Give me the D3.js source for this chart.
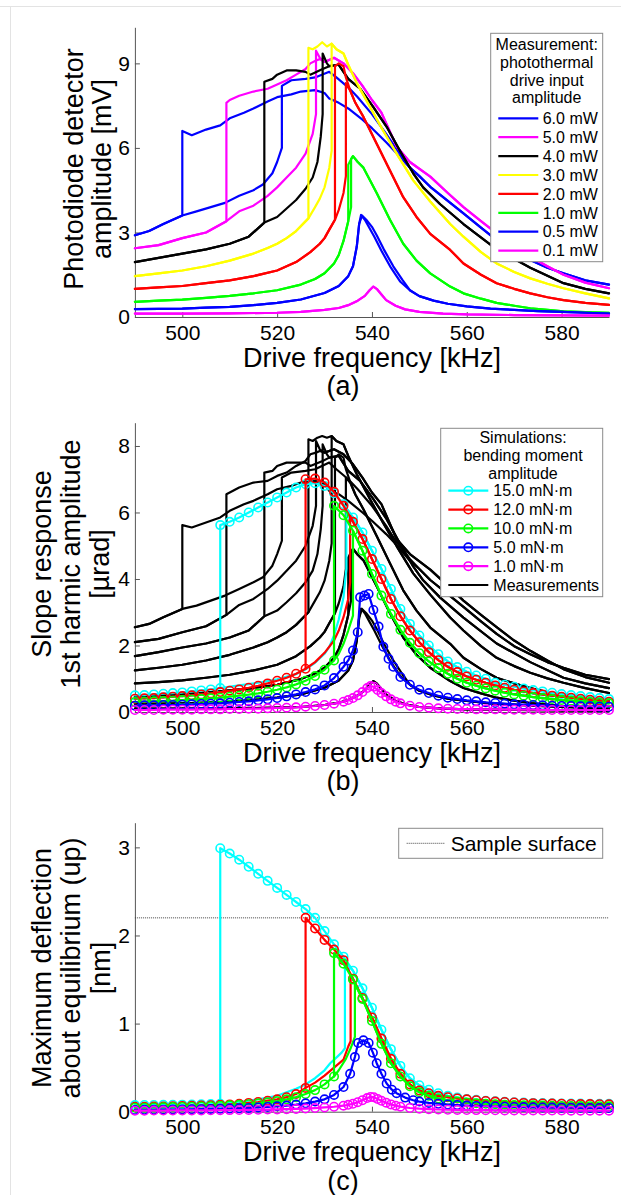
<!DOCTYPE html>
<html>
<head>
<meta charset="utf-8">
<script src="https://cdn.jsdelivr.net/npm/d3@7"></script>
<style>
  body { margin: 0; background: #fff; }
  svg text { font-family: "Liberation Sans", Arial, sans-serif; fill: #000; }
</style>
</head>
<body>
<div id="chart"></div>
<script>
// tick values
const freqTicks = [500, 520, 540, 560, 580];
const ampTicks = [0, 3, 6, 9];
const slopeTicks = [0, 2, 4, 6, 8];
const deflTicks = [0, 1, 2, 3];

// (a) measurements, lower branch (490 -> jump up) and upper branch (jump down -> 590)
const powerLabels = ['6.0 mW', '5.0 mW', '4.0 mW', '3.0 mW', '2.0 mW', '1.0 mW', '0.5 mW', '0.1 mW'];
const powerColors = ['#0000ff', '#ff00ff', '#000000', '#ffff00', '#ff0000', '#00ff00', '#0000ff', '#ff00ff'];

const a60Lo = [[490,2.9],[493,3.05],[496,3.3],[500,3.6],[503,3.75],[506,3.9],[509,4.05],[512,4.3],[515,4.5],[517,4.7],[519,5.1],[520,5.5],[521,6.0]];
const a60Hi = [[500,6.6],[502,6.45],[505,6.65],[508,6.8],[510,7.05],[513,7.25],[515,7.4],[518,7.65],[520,7.8],[523,7.9],[525,8.0],[528,8.05],[530,7.95],[531,7.75],[533,7.6],[535,7.4],[538,7.0],[540,6.7],[543,6.2],[545,5.85],[548,5.3],[550,5.0],[552.3,4.62],[555.8,4.15],[559.3,3.68],[562.8,3.2],[566.3,2.73],[570,2.3],[573.4,2.02],[577,1.75],[580.4,1.55],[585,1.3],[590,1.15]];
const a60HiUp = [[521,8.2],[523,8.4],[526,8.45],[528,8.5],[531,8.7],[532.5,8.5],[535,8.15],[537,7.8],[540,7.2],[543,6.5],[545,6.0],[548,5.3]];

const a50Lo = [[490,2.44],[495,2.55],[500,2.8],[505,3.0],[509.3,3.4],[512,3.75],[515,3.95],[518,4.3],[520,4.6],[522,4.95],[524,5.3],[526,5.8],[527.5,6.5],[528.2,7.2]];
const a50Hi = [[509.3,7.6],[510,7.7],[512,7.85],[515,8.0],[518,8.1],[520,8.25],[522,8.4],[524,8.6],[526,8.8],[527,9.0],[528.2,9.1],[529,9.15],[530,9.05],[532,9.2],[534,9.0],[536,8.65],[538,8.2],[540,7.7],[542,7.25],[545.2,6.05],[548,5.5],[552.3,4.98],[556,4.4],[559.3,3.9],[563,3.4],[566.3,2.97],[570,2.5],[573.4,2.14],[577,1.8],[580.4,1.5],[585,1.22],[590,1.02]];
const a50HiUp = [[528.2,9.45],[529,9.2],[530,9.05]];

const a40Lo = [[490,1.95],[495,2.1],[500,2.25],[505,2.4],[510,2.6],[514,2.85],[517.3,3.35],[520,3.55],[522,3.85],[524,4.15],[526,4.55],[527.5,4.95],[528.5,5.5],[529.2,6.4],[529.6,7.2]];
const a40Hi = [[517.3,8.35],[519,8.45],[520,8.6],[522,8.75],[524,8.75],[526,8.7],[527,8.6],[529.6,8.8],[531,8.9],[533,8.95],[535,8.45],[537.5,8.1],[540.3,7.45],[543.1,6.75],[545.9,5.9],[548.7,5.1],[550.8,4.6],[554.4,4.0],[559.3,3.3],[566.3,2.4],[573.4,1.75],[580.4,1.2],[585,1.0],[590,0.84]];
const a40HiUp = [[529.6,9.35],[530.5,9.0],[531,8.9]];

const a30Lo = [[490,1.45],[495,1.55],[500,1.65],[505,1.8],[510,2.0],[515,2.25],[518,2.45],[520,2.6],[522,2.8],[524,3.05],[526.6,3.5],[528,3.9],[529,4.2],[530,4.6],[531,5.3],[531.5,5.9]];
const a30Hi = [[526.6,9.55],[527.5,9.5],[528.5,9.6],[529.5,9.75],[530.5,9.6],[531.5,9.7],[532.5,9.5],[534,9.35],[535,8.95],[536.8,8.3],[539.6,7.45],[542.4,6.6],[545.2,5.8],[548.7,4.85],[552.3,4.1],[556.5,3.3],[559.3,2.85],[563,2.3],[566.3,1.9],[570,1.6],[573.4,1.37],[577,1.18],[580.4,1.02],[585,0.84],[590,0.66]];

const a20Lo = [[490,1.0],[495,1.05],[500,1.1],[505,1.2],[510,1.3],[515,1.45],[520,1.65],[524,1.95],[527,2.3],[529,2.6],[530,2.8],[531,3.1],[532.2,3.45],[533,3.8],[534,4.4],[534.5,5.0]];
const a20Hi = [[532.2,8.9],[533,9.0],[534,8.9],[534.5,8.5],[535.5,8.0],[536.5,7.6],[538.2,7.1],[541,6.15],[543.8,5.2],[546.6,4.25],[549.4,3.55],[552.3,2.95],[556.5,2.38],[559.3,1.9],[563,1.5],[566.3,1.2],[570,1.0],[573.4,0.84],[577,0.7],[580.4,0.6],[585,0.5],[590,0.43]];
const a20HiUp = [[534.5,8.3]];

const a10Lo = [[490,0.54],[495,0.58],[500,0.62],[505,0.68],[510,0.75],[515,0.84],[520,0.95],[525,1.15],[528,1.35],[530,1.55],[532,1.9],[533,2.2],[534,2.7],[535,3.4],[535.6,3.9]];
const a10Hi = [[535,5.4],[535.6,5.6],[536,5.71],[537,5.5],[538.2,5.3],[541,4.4],[543.8,3.45],[546.6,2.6],[549.4,2.0],[552.3,1.55],[556.5,1.08],[559.3,0.84],[563,0.65],[566.3,0.5],[570,0.4],[573.4,0.31],[577,0.25],[580.4,0.2],[585,0.17],[590,0.15]];

const a05Lo = [[490,0.28],[495,0.29],[500,0.3],[505,0.33],[510,0.36],[515,0.42],[520,0.5],[525,0.62],[530,0.85],[533,1.1],[535,1.45],[536,1.8],[536.8,2.5],[537.3,3.3]];
const a05Hi = [[537.3,3.3],[537.7,3.62],[538.5,3.45],[539.5,3.15],[540.5,2.85],[542,2.35],[544,1.75],[546,1.25],[548,0.95],[550,0.74],[553,0.58],[556,0.47],[560,0.38],[565,0.3],[570,0.25],[575,0.21],[580,0.18],[585,0.15],[590,0.12]];
const a05HiUp = [[537.3,3.3],[537.9,3.6],[538.8,3.45],[540,3.2],[541,2.9],[542.5,2.4],[544.5,1.8],[546.5,1.3]];

const a01Lo = [[490,0.12],[500,0.12],[510,0.13],[520,0.15],[525,0.18],[530,0.25],[533,0.32],[535,0.42],[537,0.58],[538.5,0.75],[539.5,0.95]];
const a01Hi = [[539.5,0.95],[540.3,1.08],[541,1.0],[542,0.8],[543,0.6],[545,0.4],[547,0.27],[550,0.18],[555,0.12],[560,0.09],[570,0.07],[580,0.06],[590,0.05]];

// (b) measurements in slope units
const b60Lo = [[490,2.55],[493,2.65],[496,2.85],[500,3.1],[503,3.2],[506,3.35],[509,3.5],[512,3.7],[515,3.9],[517,4.05],[519,4.4],[520,4.75],[521,5.15]];
const b60Hi = [[500,5.62],[502,5.55],[505,5.7],[508,5.85],[510,6.05],[513,6.25],[515,6.35],[518,6.55],[520,6.7],[523,6.8],[525,6.9],[528,6.95],[530,6.85],[531,6.65],[533,6.55],[535,6.35],[538,6.0],[540,5.75],[543,5.35],[545,5.05],[548,4.55],[550,4.3],[552.3,3.97],[555.8,3.57],[559.3,3.16],[562.8,2.75],[566.3,2.35],[570,1.98],[573.4,1.74],[577,1.5],[580.4,1.33],[585,1.12],[590,0.99]];
const b60HiUp = [[521,7.05],[523,7.2],[526,7.25],[528,7.3],[531,7.5],[532.5,7.3],[535,7.0],[537,6.7],[540,6.2],[543,5.6],[545,5.15],[548,4.6]];

const b50Lo = [[490,2.1],[495,2.2],[500,2.4],[505,2.58],[509.3,2.92],[512,3.22],[515,3.4],[518,3.7],[520,3.95],[522,4.25],[524,4.55],[526,5.0],[527.5,5.6],[528.2,6.2]];
const b50Hi = [[509.3,6.55],[510,6.6],[512,6.75],[515,6.9],[518,6.95],[520,7.1],[522,7.2],[524,7.4],[526,7.55],[527,7.75],[528.2,7.8],[529,7.85],[530,7.8],[532,7.9],[534,7.75],[536,7.45],[538,7.05],[540,6.6],[542,6.25],[545.2,5.2],[548,4.75],[552.3,4.28],[556,3.8],[559.3,3.35],[563,2.92],[566.3,2.55],[570,2.15],[573.4,1.84],[577,1.55],[580.4,1.29],[585,1.05],[590,0.88]];
const b50HiUp = [[528.2,8.15],[529,7.9],[530,7.8]];

const b40Lo = [[490,1.68],[495,1.8],[500,1.94],[505,2.06],[510,2.24],[514,2.45],[517.3,2.88],[520,3.05],[522,3.3],[524,3.57],[526,3.9],[527.5,4.25],[528.5,4.75],[529.2,5.5],[529.6,6.2]];
const b40Hi = [[517.3,7.2],[519,7.25],[520,7.4],[522,7.5],[524,7.5],[526,7.5],[527,7.4],[529.6,7.55],[531,7.65],[533,7.7],[535,7.25],[537.5,6.95],[540.3,6.4],[543.1,5.8],[545.9,5.07],[548.7,4.38],[550.8,3.96],[554.4,3.44],[559.3,2.84],[566.3,2.06],[573.4,1.5],[580.4,1.03],[585,0.86],[590,0.72]];
const b40HiUp = [[529.6,8.05],[530.5,7.75],[531,7.65]];

const b30Lo = [[490,1.25],[495,1.33],[500,1.42],[505,1.55],[510,1.72],[515,1.94],[518,2.1],[520,2.24],[522,2.4],[524,2.62],[526.6,3.0],[528,3.35],[529,3.6],[530,3.95],[531,4.55],[531.5,5.07]];
const b30Hi = [[526.6,8.2],[527.5,8.15],[528.5,8.25],[529.5,8.3],[530.5,8.25],[531.5,8.3],[532.5,8.15],[534,8.05],[535,7.7],[536.8,7.15],[539.6,6.4],[542.4,5.68],[545.2,4.99],[548.7,4.17],[552.3,3.53],[556.5,2.84],[559.3,2.45],[563,1.98],[566.3,1.63],[570,1.38],[573.4,1.18],[577,1.01],[580.4,0.88],[585,0.72],[590,0.57]];

const b20Lo = [[490,0.86],[495,0.9],[500,0.95],[505,1.03],[510,1.12],[515,1.25],[520,1.42],[524,1.68],[527,1.98],[529,2.24],[530,2.41],[531,2.67],[532.2,2.97],[533,3.27],[534,3.78],[534.5,4.3]];
const b20Hi = [[532.2,7.65],[533,7.75],[534,7.65],[534.5,7.3],[535.5,6.88],[536.5,6.54],[538.2,6.1],[541,5.29],[543.8,4.47],[546.6,3.66],[549.4,3.05],[552.3,2.54],[556.5,2.05],[559.3,1.63],[563,1.29],[566.3,1.03],[570,0.86],[573.4,0.72],[577,0.6],[580.4,0.52],[585,0.43],[590,0.37]];
const b20HiUp = [[534.5,7.05]];

const b10Lo = [[490,0.46],[495,0.5],[500,0.53],[505,0.58],[510,0.65],[515,0.72],[520,0.82],[525,0.99],[528,1.16],[530,1.33],[532,1.63],[533,1.89],[534,2.32],[535,2.92],[535.6,3.35]];
const b10Hi = [[535,4.64],[535.6,4.82],[536,4.91],[537,4.73],[538.2,4.56],[541,3.78],[543.8,2.97],[546.6,2.24],[549.4,1.72],[552.3,1.33],[556.5,0.93],[559.3,0.72],[563,0.56],[566.3,0.43],[570,0.34],[573.4,0.27],[577,0.22],[580.4,0.17],[585,0.14],[590,0.11]];

const b05Lo = [[490,0.24],[495,0.25],[500,0.26],[505,0.28],[510,0.31],[515,0.36],[520,0.43],[525,0.53],[530,0.73],[533,0.95],[535,1.25],[536,1.55],[536.8,2.15],[537.3,2.84]];
const b05Hi = [[537.3,2.84],[537.7,3.11],[538.5,2.97],[539.5,2.71],[540.5,2.45],[542,2.02],[544,1.5],[546,1.08],[548,0.82],[550,0.64],[553,0.5],[556,0.4],[560,0.33],[565,0.26],[570,0.22],[575,0.18],[580,0.15],[585,0.13],[590,0.11]];
const b05HiUp = [[537.3,2.84],[537.9,3.1],[538.8,2.97],[540,2.75],[541,2.5],[542.5,2.06],[544.5,1.55],[546.5,1.12]];

const b01Lo = [[490,0.1],[500,0.1],[510,0.11],[520,0.13],[525,0.15],[530,0.21],[533,0.28],[535,0.36],[537,0.5],[538.5,0.65],[539.5,0.82]];
const b01Hi = [[539.5,0.82],[540.3,0.93],[541,0.86],[542,0.69],[543,0.52],[545,0.34],[547,0.23],[550,0.15],[555,0.1],[560,0.08],[570,0.06],[580,0.05],[590,0.04]];

// simulations: down-sweep values on a 2 kHz grid, drop [f, lower value], up-sweep jump points
const simLabels = ['15.0 mN\u00b7m', '12.0 mN\u00b7m', '10.0 mN\u00b7m', '5.0 mN\u00b7m', '1.0 mN\u00b7m'];
const simColors = ['#00ffff', '#ff0000', '#00ff00', '#0000ff', '#ff00ff'];
const simF = [490,492,494,496,498,500,502,504,506,508,510,512,514,516,518,520,522,524,526,528,530,532,534,536,538,540,542,544,546,548,550,552,554,556,558,560,562,564,566,568,570,572,574,576,578,580,582,584,586,588,590];

const bSim15 = [0.5,0.51,0.53,0.55,0.57,0.59,0.62,0.65,0.68,5.62,5.72,5.85,6.0,6.15,6.3,6.45,6.6,6.75,6.85,6.88,6.8,6.58,6.25,5.85,5.4,4.85,4.3,3.7,3.1,2.65,2.3,2.0,1.74,1.52,1.35,1.21,1.1,1.0,0.88,0.82,0.76,0.71,0.66,0.62,0.58,0.54,0.51,0.48,0.45,0.42,0.39];
const bSim15Drop = [508, 0.72];
const bSim15Up = [[508,0.72],[512,0.8],[516,0.88],[520,0.98],[524,1.14],[526,1.28],[528,1.48],[530,1.75],[531,1.96],[532,2.3],[533,2.78],[534,3.45],[534.6,4.3],[534.6,6.13]];

const bSim12 = [0.4,0.41,0.42,0.44,0.46,0.48,0.5,0.53,0.56,0.6,0.64,0.68,0.73,0.79,0.86,0.94,1.03,1.15,7.0,7.02,6.9,6.62,6.2,5.72,5.2,4.6,4.0,3.4,2.88,2.45,2.1,1.8,1.56,1.36,1.2,1.07,0.97,0.88,0.8,0.73,0.67,0.62,0.57,0.53,0.49,0.46,0.43,0.4,0.37,0.34,0.31];
const bSim12Drop = [526, 1.3];
const bSim12Up = [[526,1.3],[528,1.5],[530,1.78],[532,2.15],[533,2.45],[534,2.85],[535,3.4],[535.4,3.9],[535.4,5.9]];

const bSim10 = [0.3,0.31,0.32,0.33,0.34,0.36,0.37,0.39,0.41,0.43,0.46,0.49,0.52,0.56,0.61,0.67,0.74,0.83,0.94,1.08,1.27,6.2,5.92,5.45,4.85,4.15,3.5,2.95,2.47,2.08,1.77,1.52,1.32,1.15,1.0,0.88,0.79,0.71,0.64,0.58,0.53,0.49,0.45,0.42,0.39,0.36,0.34,0.32,0.3,0.28,0.26];
const bSim10Drop = [532, 1.55];
const bSim10Up = [[532,1.55],[533,1.75],[534,2.05],[535,2.45],[536,2.9],[536,5.45]];

const bSim5 = [[490,0.19],[492,0.2],[494,0.2],[496,0.21],[498,0.21],[500,0.22],[502,0.23],[504,0.24],[506,0.25],[508,0.26],[510,0.28],[512,0.3],[514,0.32],[516,0.35],[518,0.38],[520,0.42],[522,0.47],[524,0.53],[526,0.6],[528,0.68],[530,0.8],[532,1.02],[534,1.36],[535,1.55],[536,1.85],[537,2.4],[537.5,3.45],[538.4,3.5],[539.3,3.55],[540.3,3.07],[541.4,2.57],[542.4,1.96],[543.5,1.6],[544.5,1.36],[546,1.05],[548,0.82],[550,0.67],[552,0.57],[554,0.49],[556,0.43],[558,0.39],[560,0.35],[562,0.32],[564,0.29],[566,0.27],[568,0.25],[570,0.23],[572,0.22],[574,0.21],[576,0.2],[578,0.19],[580,0.18],[582,0.18],[584,0.17],[586,0.17],[588,0.16],[590,0.16]];
const bSim1 = [[490,0.06],[492,0.06],[494,0.06],[496,0.07],[498,0.07],[500,0.07],[502,0.07],[504,0.08],[506,0.08],[508,0.08],[510,0.09],[512,0.09],[514,0.1],[516,0.1],[518,0.11],[520,0.12],[522,0.13],[524,0.14],[526,0.16],[528,0.18],[530,0.21],[532,0.25],[534,0.31],[535,0.36],[536,0.42],[537,0.5],[538,0.6],[539,0.72],[539.7,0.78],[540.4,0.76],[541.2,0.66],[542,0.57],[543,0.47],[544,0.38],[545,0.31],[546,0.26],[548,0.19],[550,0.15],[552,0.13],[554,0.11],[556,0.1],[558,0.09],[560,0.09],[562,0.08],[564,0.08],[566,0.08],[568,0.07],[570,0.07],[572,0.07],[574,0.07],[576,0.06],[578,0.06],[580,0.06],[582,0.06],[584,0.06],[586,0.06],[588,0.06],[590,0.06]];

const cSim15 = [0.075,0.076,0.077,0.078,0.079,0.08,0.082,0.084,0.086,2.99,2.93,2.86,2.78,2.7,2.62,2.54,2.46,2.38,2.3,2.2,2.05,1.9,1.76,1.6,1.4,1.18,0.93,0.71,0.52,0.38,0.3,0.25,0.21,0.18,0.16,0.145,0.135,0.125,0.118,0.112,0.107,0.103,0.1,0.098,0.096,0.094,0.093,0.092,0.091,0.09,0.09];
const cSim15Drop = [508, 0.09];
const cSim15Up = [[508,0.09],[512,0.11],[516,0.14],[520,0.18],[524,0.26],[526,0.31],[528,0.38],[530,0.47],[531.2,0.55],[532.6,0.62],[533.6,0.67],[534.3,0.72],[534.3,1.7]];

const cSim12 = [0.055,0.056,0.058,0.06,0.062,0.064,0.067,0.07,0.074,0.078,0.083,0.09,0.1,0.11,0.125,0.14,0.165,0.2,2.2,2.08,1.95,1.84,1.72,1.51,1.29,1.07,0.83,0.6,0.43,0.31,0.24,0.21,0.18,0.165,0.15,0.14,0.13,0.122,0.115,0.11,0.105,0.1,0.097,0.094,0.092,0.09,0.088,0.087,0.086,0.085,0.084];
const cSim12Drop = [526, 0.27];
const cSim12Up = [[526,0.27],[528,0.33],[530,0.41],[532,0.5],[534,0.59],[535,0.74],[535.5,0.8],[535.5,1.55]];

const cSim10 = [0.045,0.046,0.048,0.05,0.052,0.054,0.057,0.06,0.063,0.067,0.072,0.078,0.085,0.094,0.105,0.12,0.14,0.165,0.2,0.245,0.31,1.8,1.68,1.5,1.28,1.03,0.77,0.55,0.4,0.29,0.22,0.18,0.15,0.13,0.115,0.105,0.097,0.09,0.085,0.08,0.077,0.074,0.072,0.07,0.068,0.066,0.065,0.064,0.063,0.062,0.061];
const cSim10Drop = [532, 0.4];
const cSim10Up = [[532,0.4],[533,0.47],[534.5,0.6],[535.5,0.72],[536.4,0.85],[536.4,1.45]];

const cSim5 = [[490,0.02],[492,0.021],[494,0.022],[496,0.023],[498,0.024],[500,0.025],[502,0.027],[504,0.029],[506,0.031],[508,0.033],[510,0.036],[512,0.039],[514,0.043],[516,0.048],[518,0.054],[520,0.061],[522,0.07],[524,0.081],[526,0.095],[528,0.115],[530,0.14],[532,0.19],[534,0.28],[535.4,0.43],[536.4,0.62],[537.1,0.78],[538.2,0.81],[539.3,0.78],[540.2,0.67],[541,0.55],[542,0.43],[543.1,0.32],[544.2,0.25],[545.2,0.21],[547,0.16],[548.7,0.13],[550,0.115],[552,0.1],[554,0.09],[556,0.082],[558,0.076],[560,0.07],[562,0.066],[564,0.062],[566,0.059],[568,0.056],[570,0.054],[572,0.052],[574,0.05],[576,0.048],[578,0.047],[580,0.046],[582,0.045],[584,0.044],[586,0.043],[588,0.042],[590,0.042]];
const cSim1 = [[490,0.012],[492,0.012],[494,0.013],[496,0.013],[498,0.014],[500,0.014],[502,0.015],[504,0.015],[506,0.016],[508,0.017],[510,0.018],[512,0.019],[514,0.02],[516,0.022],[518,0.024],[520,0.026],[522,0.029],[524,0.032],[526,0.036],[528,0.041],[530,0.048],[532,0.056],[534,0.068],[535,0.078],[536,0.09],[537,0.108],[538,0.13],[539,0.155],[539.7,0.168],[540.4,0.165],[541.2,0.145],[542,0.124],[543,0.102],[544,0.083],[545,0.068],[546,0.057],[548,0.042],[550,0.034],[552,0.029],[554,0.025],[556,0.022],[558,0.02],[560,0.019],[562,0.018],[564,0.017],[566,0.016],[568,0.015],[570,0.015],[572,0.014],[574,0.014],[576,0.013],[578,0.013],[580,0.013],[582,0.012],[584,0.012],[586,0.012],[588,0.012],[590,0.012]];

const surfaceLevel = 2.2;

// ---------------------------------------------------------------
const W = 621, H = 1195;
const svg = d3.select('#chart').append('svg').attr('width', W).attr('height', H);
svg.append('rect').attr('width', W).attr('height', H).attr('fill', '#fff');
svg.append('path').attr('d', 'M0,6.5H621M10.5,6.5V1195').attr('stroke', '#e3e3e3').attr('fill', 'none');

const x = d3.scaleLinear().domain([490, 590]).range([134.9, 609]);

// build both sweeps from a lower and an upper branch
function measSweeps(lo, hi, hiUp) {
  const fUp = lo[lo.length - 1][0], fDn = hi[0][0];
  const upper = hiUp ? hiUp.concat(hi.filter(p => p[0] > hiUp[hiUp.length - 1][0])) : hi.filter(p => p[0] >= fUp);
  const up = lo.concat(upper);
  const down = hi.slice().reverse().concat(lo.filter(p => p[0] <= fDn).reverse());
  return [up, down];
}

function simSweeps(vals, drop, up) {
  const down = [];
  for (let i = simF.length - 1; i >= 0; i--) {
    down.push([simF[i], vals[i]]);
    if (simF[i] === drop[0]) down.push([drop[0], drop[1]]);
  }
  const grid = simF.map((f, i) => [f, vals[i]]);
  const upPath = up.concat(grid.filter(p => p[0] > up[up.length - 1][0]));
  return { down, up: upPath };
}

function drawAxes(g, y, ticks) {
  const gx = g.append('g').attr('transform', `translate(0,${y(0)})`)
    .call(d3.axisBottom(x).tickValues(freqTicks).tickFormat(d3.format('d'))
      .tickSizeInner(-5).tickSizeOuter(0).tickPadding(7.6));
  const gy = g.append('g').attr('transform', `translate(${x(490)},0)`)
    .call(d3.axisLeft(y).tickValues(ticks).tickFormat(d3.format('d'))
      .tickSizeInner(-5).tickSizeOuter(0).tickPadding(5));
  [gx, gy].forEach(a => {
    a.selectAll('.domain, .tick line').attr('stroke', '#555').attr('stroke-width', 1);
    a.selectAll('text').attr('font-size', 21).attr('fill', '#000')
      .style('font-family', '"Liberation Sans", Arial, sans-serif');
  });
}

function drawLabels(g, y, lines, xs, cy, tag) {
  const base = y(0);
  g.append('text').attr('x', 372).attr('y', base + 49.5).attr('text-anchor', 'middle')
    .attr('font-size', 27).text('Drive frequency [kHz]');
  g.append('text').attr('x', 343).attr('y', base + 78).attr('text-anchor', 'middle')
    .attr('font-size', 27).text(tag);
  lines.forEach((t, i) => {
    g.append('text').attr('transform', `translate(${xs[i]},${cy}) rotate(-90)`)
      .attr('text-anchor', 'middle').attr('font-size', 27).text(t);
  });
}

function drawCurve(g, y, pts, color) {
  g.append('path').datum(pts)
    .attr('d', d3.line().x(d => x(d[0])).y(d => y(d[1])))
    .attr('fill', 'none').attr('stroke', color).attr('stroke-width', 2.2)
    .attr('stroke-linejoin', 'round').attr('stroke-linecap', 'round');
}

function drawMarkers(g, y, pts, color) {
  g.selectAll(null).data(pts).enter().append('circle')
    .attr('cx', d => x(d[0])).attr('cy', d => y(d[1])).attr('r', 4.2)
    .attr('fill', 'none').attr('stroke', color).attr('stroke-width', 1.6);
}

// ---------------- panel (a) ----------------
const ya = d3.scaleLinear().domain([0, 10.28]).range([317, 27.3]);
const ga = svg.append('g');
drawAxes(ga, ya, ampTicks);
const aCurves = [
  measSweeps(a60Lo, a60Hi, a60HiUp), measSweeps(a50Lo, a50Hi, a50HiUp),
  measSweeps(a40Lo, a40Hi, a40HiUp), measSweeps(a30Lo, a30Hi),
  measSweeps(a20Lo, a20Hi, a20HiUp), measSweeps(a10Lo, a10Hi),
  measSweeps(a05Lo, a05Hi, a05HiUp), measSweeps(a01Lo, a01Hi)
];
aCurves.forEach((c, i) => c.forEach(s => drawCurve(ga, ya, s, powerColors[i])));
drawLabels(ga, ya, ['Photodiode detector', 'amplitude [mV]'], [82.7, 111.3], 169, '(a)');

// legend (a)
ga.append('rect').attr('x', 490.7).attr('y', 33.3).attr('width', 112).attr('height', 228.4)
  .attr('fill', '#fff').attr('stroke', '#8a8a8a');
['Measurement:', 'photothermal', 'drive input', 'amplitude'].forEach((t, i) => {
  ga.append('text').attr('x', 546.7).attr('y', 50 + i * 17.8).attr('text-anchor', 'middle')
    .attr('font-size', 16).text(t);
});
powerLabels.forEach((t, i) => {
  const cy = 118.3 + i * 18.9;
  ga.append('line').attr('x1', 498.3).attr('x2', 538.3).attr('y1', cy).attr('y2', cy)
    .attr('stroke', powerColors[i]).attr('stroke-width', 2.2);
  ga.append('text').attr('x', 542.7).attr('y', cy + 5.7).attr('font-size', 16).text(t);
});

// ---------------- panel (b) ----------------
const yb = d3.scaleLinear().domain([0, 8.7]).range([712, 422.7]);
const gb = svg.append('g');
drawAxes(gb, yb, slopeTicks);
[
  measSweeps(b60Lo, b60Hi, b60HiUp), measSweeps(b50Lo, b50Hi, b50HiUp),
  measSweeps(b40Lo, b40Hi, b40HiUp), measSweeps(b30Lo, b30Hi),
  measSweeps(b20Lo, b20Hi, b20HiUp), measSweeps(b10Lo, b10Hi),
  measSweeps(b05Lo, b05Hi, b05HiUp), measSweeps(b01Lo, b01Hi)
].forEach(c => c.forEach(s => drawCurve(gb, yb, s, '#000')));

const bSims = [
  simSweeps(bSim15, bSim15Drop, bSim15Up),
  simSweeps(bSim12, bSim12Drop, bSim12Up),
  simSweeps(bSim10, bSim10Drop, bSim10Up),
  { down: bSim5, up: null },
  { down: bSim1, up: null }
];
bSims.forEach((s, i) => {
  if (s.up) drawCurve(gb, yb, s.up, simColors[i]);
  drawCurve(gb, yb, s.down, simColors[i]);
  drawMarkers(gb, yb, s.down, simColors[i]);
});
drawLabels(gb, yb, ['Slope response', '1st harmic amplitude', '[\u00b5rad]'], [51, 80, 109], 564, '(b)');

// legend (b)
gb.append('rect').attr('x', 440.7).attr('y', 428.3).attr('width', 162).attr('height', 168.4)
  .attr('fill', '#fff').attr('stroke', '#8a8a8a');
['Simulations:', 'bending moment', 'amplitude'].forEach((t, i) => {
  gb.append('text').attr('x', 523).attr('y', 442.7 + i * 17.9).attr('text-anchor', 'middle')
    .attr('font-size', 16).text(t);
});
simLabels.concat(['Measurements']).forEach((t, i) => {
  const cy = 490.7 + i * 18.86;
  const col = i < simColors.length ? simColors[i] : '#000';
  gb.append('line').attr('x1', 448.3).attr('x2', 488.3).attr('y1', cy).attr('y2', cy)
    .attr('stroke', col).attr('stroke-width', 2.2);
  if (i < simColors.length) {
    gb.append('circle').attr('cx', 468.3).attr('cy', cy).attr('r', 4.2)
      .attr('fill', 'none').attr('stroke', col).attr('stroke-width', 1.6);
  }
  gb.append('text').attr('x', 493.3).attr('y', cy + 5.7).attr('font-size', 16).text(t);
});

// ---------------- panel (c) ----------------
const yc = d3.scaleLinear().domain([0, 3.28]).range([1111.7, 822.7]);
const gc = svg.append('g');
drawAxes(gc, yc, deflTicks);
gc.append('line').attr('x1', x(490)).attr('x2', x(590))
  .attr('y1', yc(surfaceLevel)).attr('y2', yc(surfaceLevel))
  .attr('stroke', '#444').attr('stroke-width', 1).attr('stroke-dasharray', '1,1');
const cSims = [
  simSweeps(cSim15, cSim15Drop, cSim15Up),
  simSweeps(cSim12, cSim12Drop, cSim12Up),
  simSweeps(cSim10, cSim10Drop, cSim10Up),
  { down: cSim5, up: null },
  { down: cSim1, up: null }
];
cSims.forEach((s, i) => {
  if (s.up) drawCurve(gc, yc, s.up, simColors[i]);
  drawCurve(gc, yc, s.down, simColors[i]);
  drawMarkers(gc, yc, s.down, simColors[i]);
});
drawLabels(gc, yc, ['Maximum deflection', 'about equilibrium (up)', '[nm]'], [51, 80, 109.5], 968, '(c)');

// legend (c)
gc.append('rect').attr('x', 398.7).attr('y', 828.3).attr('width', 204).attr('height', 30)
  .attr('fill', '#fff').attr('stroke', '#8a8a8a');
gc.append('line').attr('x1', 406.7).attr('x2', 445).attr('y1', 843.3).attr('y2', 843.3)
  .attr('stroke', '#444').attr('stroke-width', 1).attr('stroke-dasharray', '1,1');
gc.append('text').attr('x', 450.7).attr('y', 850.7).attr('font-size', 21).text('Sample surface');
</script>
</body>
</html>
